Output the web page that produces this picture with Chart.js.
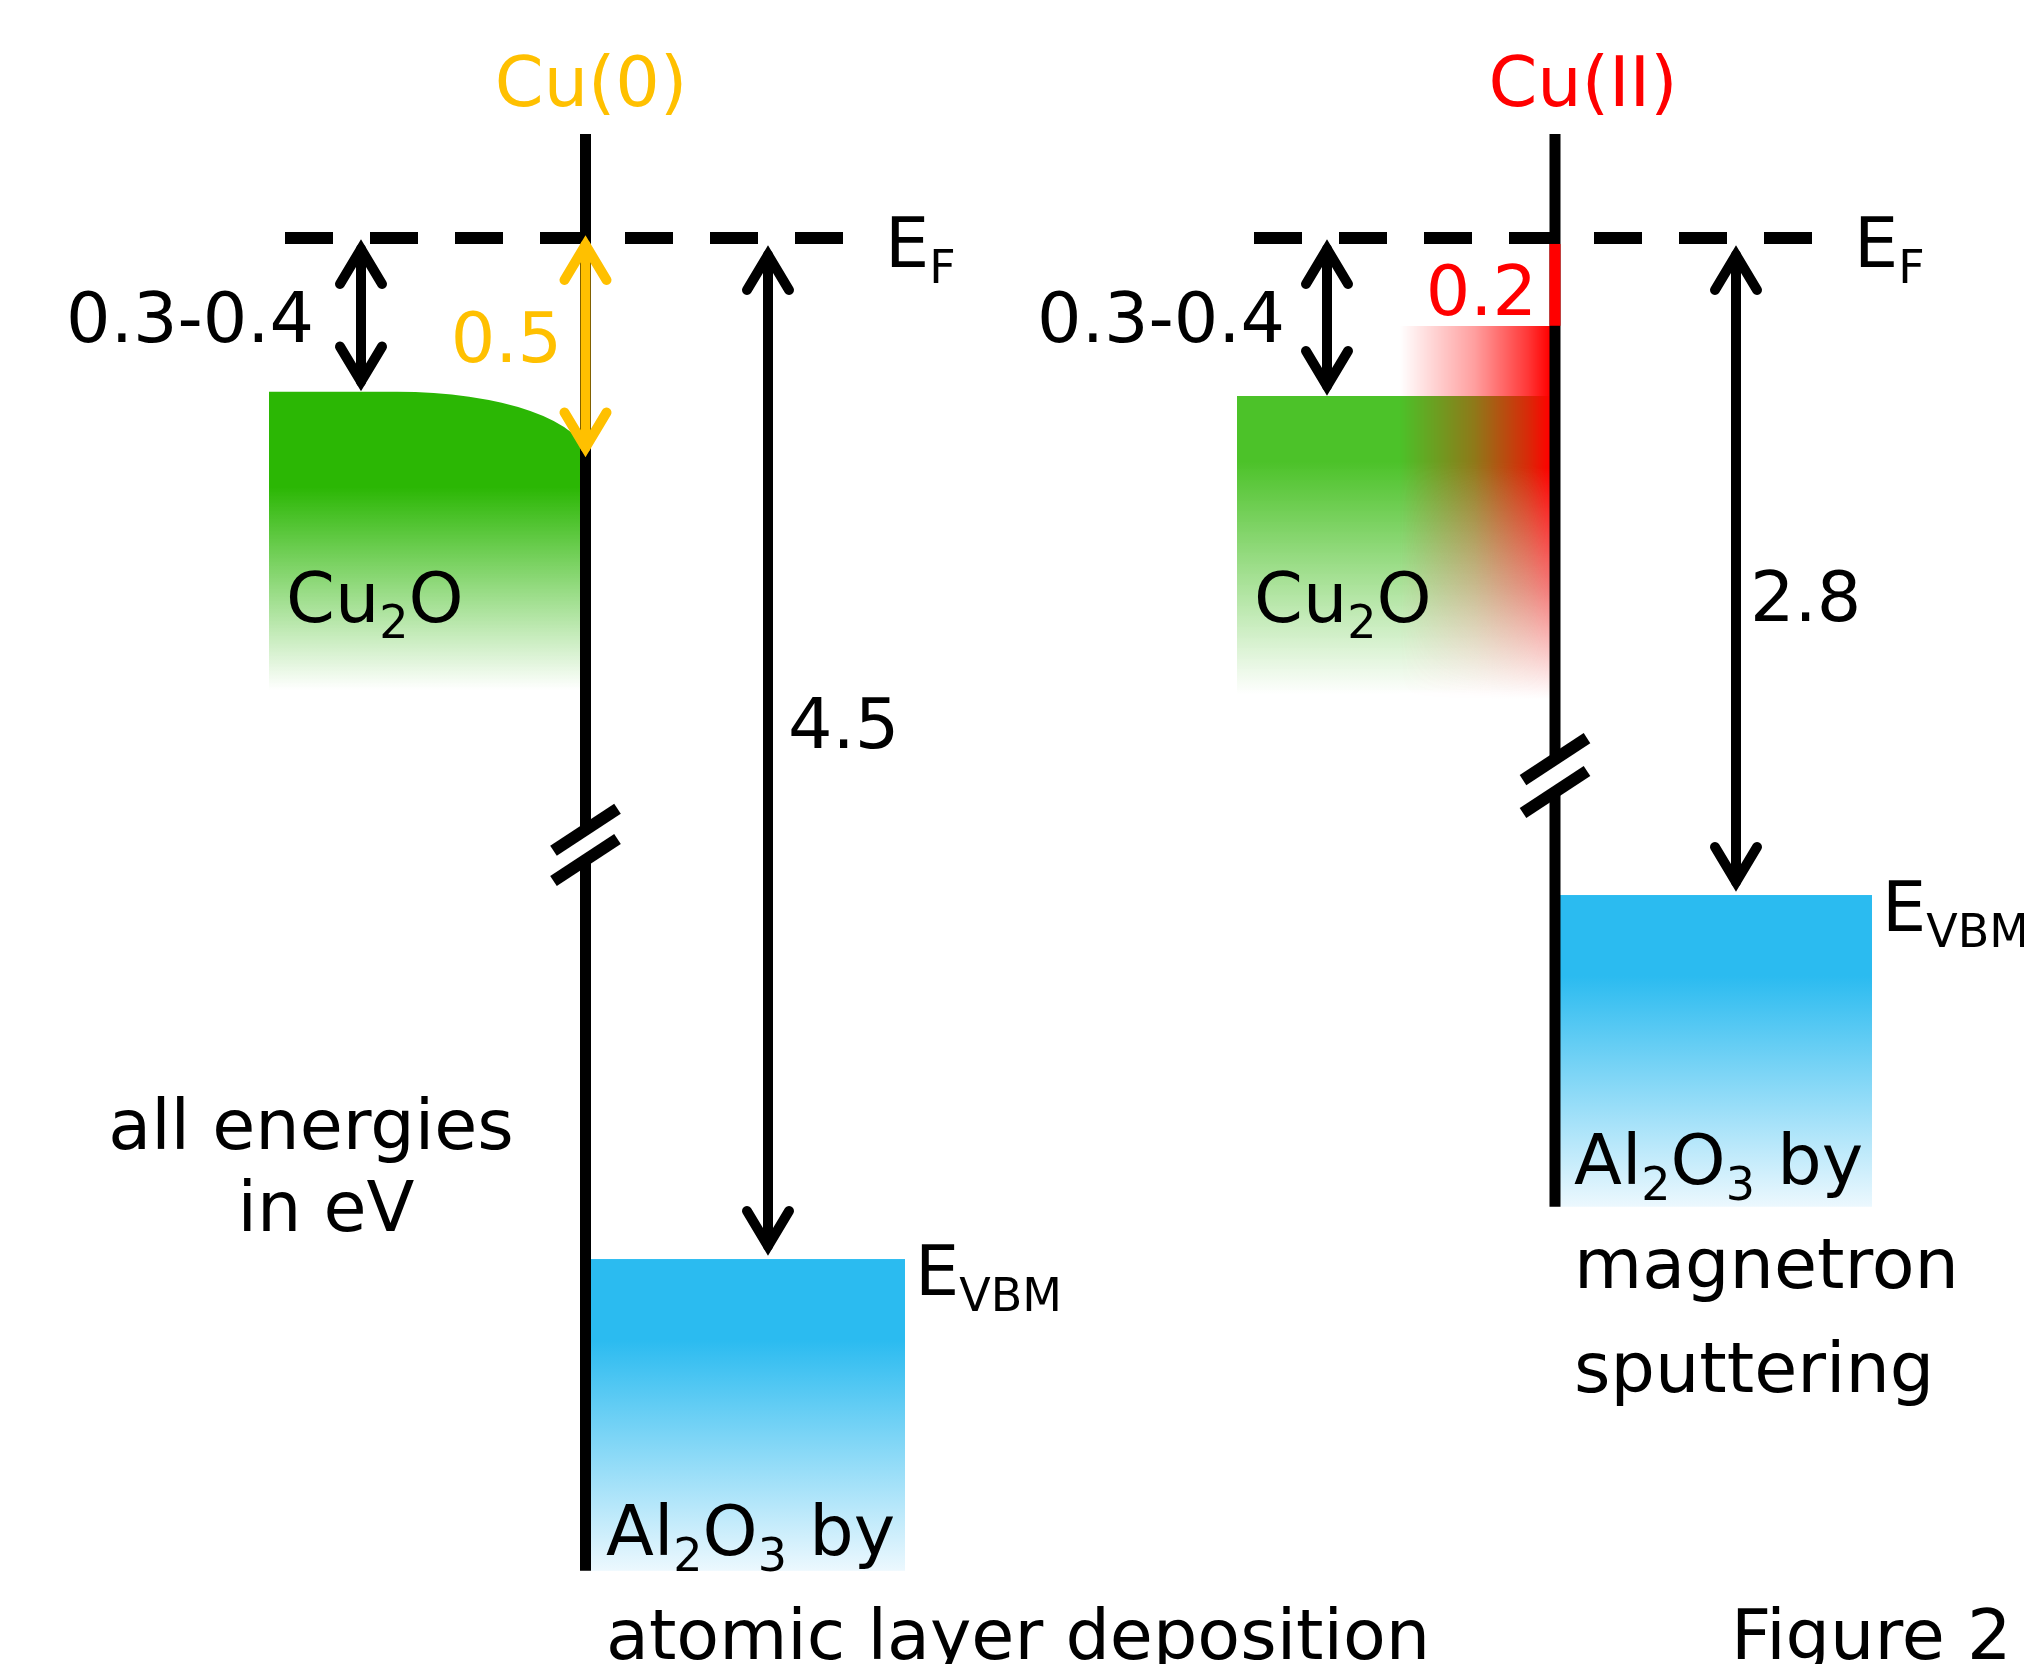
<!DOCTYPE html>
<html>
<head>
<meta charset="utf-8">
<script src="https://cdn.jsdelivr.net/npm/chart.js@4.4.1/dist/chart.umd.min.js"></script>
<style>
  html, body { margin: 0; padding: 0; background: #fff; }
  canvas { display: block; }
</style>
</head>
<body>
<canvas id="bandChart" width="2024" height="1664" style="width:2024px;height:1664px"></canvas>
<script>
// energies in eV below the Fermi level
const panels = ['Cu(0)', 'Cu(II)'];
const panelColors = ['#ffc000', '#ff0000'];
const cu2oVbm = [0.35, 0.36];
const cu2oVbmLabels = ['0.3-0.4', '0.3-0.4'];
const interfaceStates = [0.5, 0.2];
const interfaceLabels = ['0.5', '0.2'];
const al2o3Vbm = [4.5, 2.8];
const al2o3VbmLabels = ['4.5', '2.8'];
const al2o3Method = [['atomic layer deposition'], ['magnetron', 'sputtering']];
const noteLines = ['all energies', 'in eV'];
const figureLabel = 'Figure 2';

// the axis is broken below the Cu2O band, deeper levels are compressed
const BREAK_OFFSET = 0.131, BREAK_SCALE = 0.4877;
const deep = e => BREAK_OFFSET + BREAK_SCALE * e;
const CU2O_H = 0.68;   // drawn depth of the Cu2O band
const BOX_H = 0.71;    // drawn depth of the Al2O3 band

const FONT = '"DejaVu Sans", Verdana, sans-serif';
const MAIN = 70, SUB = 46, SUB_DROP = 16;

// layout per panel (x in canvas units, depths in axis units)
const layout = [
  { iface: 585.5, efFrom: 285, efTo: 843, shortX: 361, longX: 768, cuLeft: 269, bend: true, bendStart: 397,
    boxRight: 905, lineTop: -0.237, breaks: [1.348, 1.417], green: [43, 183, 4], greenSolid: 0.32,
    title: [591, 106], shortLbl: [314, 342], ifaceLbl: [562, 362], longLbl: [788, 748],
    cu2o: [286, 622], method: [606, 1555] },
  { iface: 1555, efFrom: 1254, efTo: 1812, shortX: 1327, longX: 1736, cuLeft: 1237, bend: false, bendStart: 0,
    boxRight: 1872, lineTop: -0.237, breaks: [1.187, 1.262], green: [76, 194, 41], greenSolid: 0.22,
    title: [1583, 106], shortLbl: [1285, 342], ifaceLbl: [1537, 315], longLbl: [1750, 621],
    cu2o: [1254, 622], method: [1574, 1184] }
];

const rgba = (c, a) => 'rgba(' + c[0] + ',' + c[1] + ',' + c[2] + ',' + a + ')';

function richText(ctx, parts, x, y, align, color) {
  let w = 0;
  parts.forEach(p => { ctx.font = (p[1] ? SUB : MAIN) + 'px ' + FONT; w += ctx.measureText(p[0]).width; });
  let cx = align === 'right' ? x - w : align === 'center' ? x - w / 2 : x;
  ctx.textAlign = 'left';
  ctx.textBaseline = 'alphabetic';
  ctx.fillStyle = color;
  parts.forEach(p => {
    ctx.font = (p[1] ? SUB : MAIN) + 'px ' + FONT;
    ctx.fillText(p[0], cx, y + (p[1] ? SUB_DROP : 0));
    cx += ctx.measureText(p[0]).width;
  });
}

function arrow(ctx, x, yTop, yBot, color) {
  const inset = 10, wx = 21, wy = 35;
  const a = yTop + inset, b = yBot - inset;
  ctx.save();
  ctx.strokeStyle = color;
  ctx.lineWidth = 10;
  ctx.lineCap = 'round';
  ctx.lineJoin = 'miter';
  ctx.beginPath(); ctx.moveTo(x, a); ctx.lineTo(x, b); ctx.stroke();
  ctx.beginPath(); ctx.moveTo(x - wx, a + wy); ctx.lineTo(x, a); ctx.lineTo(x + wx, a + wy); ctx.stroke();
  ctx.beginPath(); ctx.moveTo(x - wx, b - wy); ctx.lineTo(x, b); ctx.lineTo(x + wx, b - wy); ctx.stroke();
  ctx.restore();
}

const bandPlugin = {
  id: 'bands',
  beforeDatasetsDraw(chart) {
    const { ctx, scales: { x, y } } = chart;
    const X = v => x.getPixelForValue(v);
    const Y = d => y.getPixelForValue(-d);
    ctx.save();
    layout.forEach((L, i) => {
      // Cu2O valence band
      const top = Y(cu2oVbm[i]), bot = Y(cu2oVbm[i] + CU2O_H);
      const g = ctx.createLinearGradient(0, top, 0, bot);
      g.addColorStop(0, rgba(L.green, 1));
      g.addColorStop(L.greenSolid, rgba(L.green, 1));
      g.addColorStop(1, rgba(L.green, 0));
      ctx.fillStyle = g;
      ctx.beginPath();
      ctx.moveTo(X(L.cuLeft), top);
      if (L.bend) {
        const iy = Y(interfaceStates[i]);
        ctx.lineTo(X(L.bendStart), top);
        ctx.ellipse(X(L.bendStart), iy, X(L.iface) - X(L.bendStart), iy - top, 0, -Math.PI / 2, 0);
      } else {
        ctx.lineTo(X(L.iface), top);
      }
      ctx.lineTo(X(L.iface), bot);
      ctx.lineTo(X(L.cuLeft), bot);
      ctx.closePath();
      ctx.fill();

      // Cu(II) interface states glow: red fading to white downwards, transparent leftwards
      if (!L.bend) {
        const x0 = Math.round(X(L.iface) - 155), x1 = Math.round(X(L.iface) - 5);
        const y0 = Math.round(Y(interfaceStates[i])), y1 = Math.round(bot) + 4;
        const w = x1 - x0, h = y1 - y0;
        const off = document.createElement('canvas');
        off.width = w; off.height = h;
        const o = off.getContext('2d');
        const vg = o.createLinearGradient(0, 0, 0, h);
        vg.addColorStop(0, 'rgba(255,0,0,1)');
        vg.addColorStop(0.38, 'rgba(255,0,0,1)');
        vg.addColorStop(0.7, 'rgba(246,120,120,1)');
        vg.addColorStop(1, 'rgba(255,255,255,1)');
        o.fillStyle = vg;
        o.fillRect(0, 0, w, h);
        o.globalCompositeOperation = 'destination-in';
        const hg = o.createLinearGradient(0, 0, w, 0);
        hg.addColorStop(0, 'rgba(0,0,0,0)');
        hg.addColorStop(0.5, 'rgba(0,0,0,0.38)');
        hg.addColorStop(0.85, 'rgba(0,0,0,0.78)');
        hg.addColorStop(1, 'rgba(0,0,0,1)');
        o.fillStyle = hg;
        o.fillRect(0, 0, w, h);
        ctx.drawImage(off, x0, y0);
      }

      // Al2O3 valence band
      const bt = Y(deep(al2o3Vbm[i])), bb = Y(deep(al2o3Vbm[i]) + BOX_H);
      const bg = ctx.createLinearGradient(0, bt, 0, bb);
      bg.addColorStop(0, '#2bbbf0');
      bg.addColorStop(0.26, '#2bbbf0');
      bg.addColorStop(1, '#ecf8fe');
      ctx.fillStyle = bg;
      ctx.fillRect(X(L.iface) + 5, bt, X(L.boxRight) - X(L.iface) - 5, bb - bt);
    });
    ctx.restore();
  },
  afterDatasetsDraw(chart) {
    const { ctx, scales: { x, y } } = chart;
    const X = v => x.getPixelForValue(v);
    const Y = d => y.getPixelForValue(-d);
    const ef = Y(0);
    ctx.save();
    layout.forEach((L, i) => {
      const ix = X(L.iface);
      // axis break marks
      ctx.strokeStyle = '#000';
      ctx.lineWidth = 12;
      ctx.lineCap = 'butt';
      L.breaks.forEach(d => {
        const by = Y(d);
        ctx.beginPath(); ctx.moveTo(ix - 32, by + 21); ctx.lineTo(ix + 32, by - 21); ctx.stroke();
      });

      // interface level
      if (L.bend) {
        arrow(ctx, ix, ef - 3, Y(interfaceStates[i]), panelColors[i]);
      } else {
        ctx.strokeStyle = panelColors[i];
        ctx.lineWidth = 11;
        ctx.beginPath(); ctx.moveTo(ix, ef + 6); ctx.lineTo(ix, Y(interfaceStates[i])); ctx.stroke();
      }

      // E_F to Cu2O VBM, E_F to Al2O3 VBM
      arrow(ctx, X(L.shortX), ef + 1, Y(cu2oVbm[i]), '#000');
      arrow(ctx, X(L.longX), ef + 7, Y(deep(al2o3Vbm[i])) - 3, '#000');

      // labels
      richText(ctx, [[panels[i], false]], L.title[0], L.title[1], 'center', panelColors[i]);
      richText(ctx, [[cu2oVbmLabels[i], false]], L.shortLbl[0], L.shortLbl[1], 'right', '#000');
      richText(ctx, [[interfaceLabels[i], false]], L.ifaceLbl[0], L.ifaceLbl[1], 'right', panelColors[i]);
      richText(ctx, [[al2o3VbmLabels[i], false]], L.longLbl[0], L.longLbl[1], 'left', '#000');
      richText(ctx, [['Cu', false], ['2', true], ['O', false]], L.cu2o[0], L.cu2o[1], 'left', '#000');
      richText(ctx, [['E', false], ['F', true]], X(L.efTo) + 42, ef + 29, 'left', '#000');
      richText(ctx, [['E', false], ['VBM', true]], X(L.boxRight) + 10, Y(deep(al2o3Vbm[i])) + 36, 'left', '#000');
      richText(ctx, [['Al', false], ['2', true], ['O', false], ['3', true], [' by', false]],
        L.method[0], L.method[1], 'left', '#000');
      al2o3Method[i].forEach((t, k) => {
        richText(ctx, [[t, false]], L.method[0], L.method[1] + 104 * (k + 1), 'left', '#000');
      });
    });
    richText(ctx, [[noteLines[0], false]], 311, 1149, 'center', '#000');
    richText(ctx, [[noteLines[1], false]], 326, 1231, 'center', '#000');
    richText(ctx, [[figureLabel, false]], 1731, 1659, 'left', '#000');
    ctx.restore();
  }
};

const datasets = [];
layout.forEach((L, i) => {
  const bottom = deep(al2o3Vbm[i]) + BOX_H;
  datasets.push({
    data: [{ x: L.efFrom, y: 0 }, { x: L.efTo, y: 0 }],
    borderDash: [48, 37], borderWidth: 12
  });
  datasets.push({
    data: [
      { x: L.iface, y: -L.lineTop }, { x: L.iface, y: -L.breaks[0] }, { x: L.iface, y: null },
      { x: L.iface, y: -L.breaks[1] }, { x: L.iface, y: -bottom }
    ],
    borderWidth: 11
  });
});
datasets.forEach(d => Object.assign(d, {
  showLine: true, pointRadius: 0, borderColor: '#000', fill: false, tension: 0,
  clip: false, spanGaps: false, borderCapStyle: 'butt'
}));

new Chart(document.getElementById('bandChart').getContext('2d'), {
  type: 'scatter',
  data: { datasets: datasets },
  options: {
    responsive: false,
    animation: false,
    events: [],
    layout: { padding: 0 },
    plugins: {
      legend: { display: false },
      tooltip: { enabled: false }
    },
    scales: {
      x: { type: 'linear', display: false, min: 0, max: 2024 },
      y: { type: 'linear', display: false, min: -3.248, max: 0.542 }
    }
  },
  plugins: [bandPlugin]
});
</script>
</body>
</html>
